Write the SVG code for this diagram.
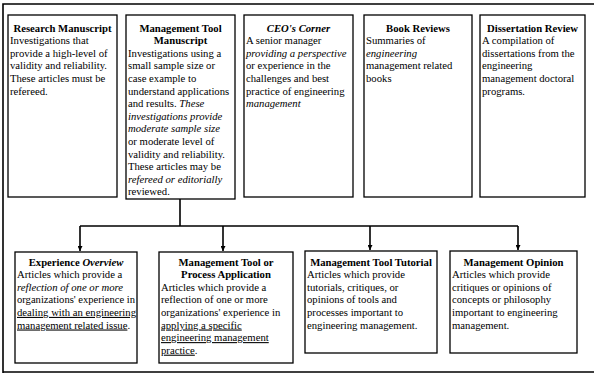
<svg xmlns="http://www.w3.org/2000/svg" width="594" height="377" viewBox="0 0 594 377">
<defs>
<marker id="ah" viewBox="0 0 10 10" refX="10" refY="5" markerWidth="5" markerHeight="5" orient="auto" markerUnits="userSpaceOnUse">
<path d="M0,0 L10,5 L0,10 z" fill="#000"/>
</marker>
</defs>
<style>
text{font-family:"Liberation Serif","Times New Roman",serif;font-size:10.7px;fill:#000}
.t{font-weight:bold;text-anchor:middle}
.i{font-style:italic}
.u{text-decoration:underline}
.box{fill:#fff;stroke:#000;stroke-width:1.3}
.ln{fill:none;stroke:#000;stroke-width:1.6}
</style>
<rect width="594" height="377" fill="#fff"/>
<path class="ln" d="M3,373 V4 H594 M3,372 H594"/>

<g id="research-manuscript">
<rect class="box" x="8" y="15" width="109" height="182"/>
<text class="t" x="62.5" y="31.5">Research Manuscript</text>
<text x="10" y="44.1">Investigations that</text>
<text x="10" y="56.7">provide a high-level of</text>
<text x="10" y="69.3">validity and reliability.</text>
<text x="10" y="81.9">These articles must be</text>
<text x="10" y="94.5">refereed.</text>
</g>

<g id="management-tool-manuscript">
<rect class="box" x="126" y="15" width="109" height="184"/>
<text class="t" x="180.5" y="31.5">Management Tool</text>
<text class="t" x="180.5" y="44.1">Manuscript</text>
<text x="128" y="56.7">Investigations using a</text>
<text x="128" y="69.3">small sample size or</text>
<text x="128" y="81.9">case example to</text>
<text x="128" y="94.5">understand applications</text>
<text x="128" y="107.1">and results. <tspan class="i">These</tspan></text>
<text x="128" y="119.7" class="i">investigations provide</text>
<text x="128" y="132.3" class="i">moderate sample size</text>
<text x="128" y="144.9">or moderate level of</text>
<text x="128" y="157.5">validity and reliability.</text>
<text x="128" y="170.1">These articles may be</text>
<text x="128" y="182.7" class="i">refereed or editorially</text>
<text x="128" y="195.3">reviewed.</text>
</g>

<g id="ceos-corner">
<rect class="box" x="244" y="15" width="109" height="182"/>
<text class="t i" x="298.5" y="31.5">CEO's Corner</text>
<text x="246" y="44.1">A senior manager</text>
<text x="246" y="56.7" class="i">providing a perspective</text>
<text x="246" y="69.3">or experience in the</text>
<text x="246" y="81.9">challenges and best</text>
<text x="246" y="94.5">practice of engineering</text>
<text x="246" y="107.1" class="i">management</text>
</g>

<g id="book-reviews">
<rect class="box" x="364" y="15" width="108" height="182"/>
<text class="t" x="418" y="31.5">Book Reviews</text>
<text x="366" y="44.1">Summaries of</text>
<text x="366" y="56.7" class="i">engineering</text>
<text x="366" y="69.3">management related</text>
<text x="366" y="81.9">books</text>
</g>

<g id="dissertation-review">
<rect class="box" x="480" y="15" width="105" height="182"/>
<text class="t" x="532.5" y="31.5">Dissertation Review</text>
<text x="482" y="44.1">A compilation of</text>
<text x="482" y="56.7">dissertations from the</text>
<text x="482" y="69.3">engineering</text>
<text x="482" y="81.9">management doctoral</text>
<text x="482" y="94.5">programs.</text>
</g>

<g id="connectors">
<path class="ln" d="M180,199 V226 M80,226 H518"/>
<path class="ln" d="M80,226 V251" marker-end="url(#ah)"/>
<path class="ln" d="M223,226 V251" marker-end="url(#ah)"/>
<path class="ln" d="M370,226 V250" marker-end="url(#ah)"/>
<path class="ln" d="M518,226 V250" marker-end="url(#ah)"/>
</g>

<g id="experience-overview">
<rect class="box" x="15" y="252" width="122" height="111"/>
<text class="t" x="76" y="265.5">Experience <tspan class="i">Overview</tspan></text>
<text x="17" y="278.1">Articles which provide a</text>
<text x="17" y="290.7" class="i">reflection of one or more</text>
<text x="17" y="303.3" textLength="118" lengthAdjust="spacingAndGlyphs">organizations' experience in</text>
<text x="17" y="315.9" class="u">dealing with an engineering</text>
<text x="17" y="328.5"><tspan class="u">management related issue</tspan>.</text>
</g>

<g id="management-tool-process-application">
<rect class="box" x="159" y="252" width="134" height="111"/>
<text class="t" x="226" y="265.5">Management Tool or</text>
<text class="t" x="226" y="278.1">Process Application</text>
<text x="161" y="290.7">Articles which provide a</text>
<text x="161" y="303.3">reflection of one or more</text>
<text x="161" y="315.9">organizations' experience in</text>
<text x="161" y="328.5" class="u">applying a specific</text>
<text x="161" y="341.1" class="u">engineering management</text>
<text x="161" y="353.7"><tspan class="u">practice</tspan>.</text>
</g>

<g id="management-tool-tutorial">
<rect class="box" x="305" y="251" width="132" height="102"/>
<text class="t" x="371" y="265.5">Management Tool Tutorial</text>
<text x="307" y="278.1">Articles which provide</text>
<text x="307" y="290.7">tutorials, critiques, or</text>
<text x="307" y="303.3">opinions of tools and</text>
<text x="307" y="315.9">processes important to</text>
<text x="307" y="328.5">engineering management.</text>
</g>

<g id="management-opinion">
<rect class="box" x="450" y="251" width="127" height="102"/>
<text class="t" x="513.5" y="265.5">Management Opinion</text>
<text x="452" y="278.1">Articles which provide</text>
<text x="452" y="290.7">critiques or opinions of</text>
<text x="452" y="303.3">concepts or philosophy</text>
<text x="452" y="315.9">important to engineering</text>
<text x="452" y="328.5">management.</text>
</g>
</svg>
